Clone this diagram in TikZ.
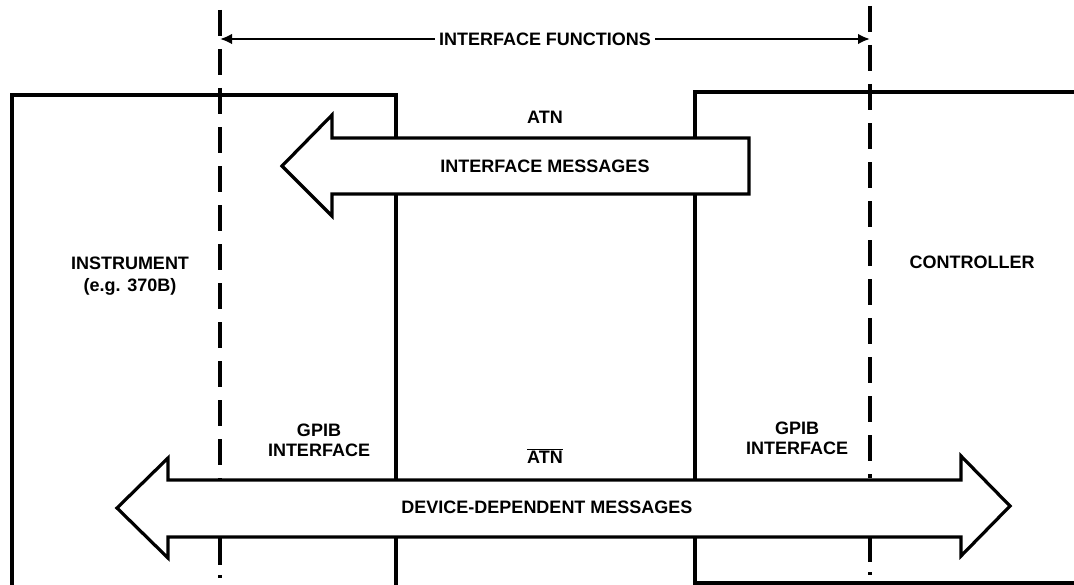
\documentclass[tikz,border=0pt]{standalone}
\usepackage{fontspec}
\setmainfont{Liberation Sans}
\usetikzlibrary{arrows.meta}
\begin{document}
\begin{tikzpicture}[x=0.75pt,y=-0.75pt,
  lbl/.style={font=\fontsize{13.5}{16.5}\selectfont\bfseries, inner sep=0pt, align=center},
  boxline/.style={line width=2.3pt, line join=miter},
  dashline/.style={line width=2.5pt, dash pattern=on 19.5pt off 9.75pt},
  bigarrow/.style={draw, fill=white, line width=2.4pt, line join=miter},
  dimline/.style={line width=2pt, {Latex[length=9pt,width=8pt]}-{Latex[length=9pt,width=8pt]}}]
\useasboundingbox (0,0) rectangle (1074,585);

% instrument and controller boxes
\draw[boxline] (12,585) -- (12,95) -- (396,95) -- (396,585);
\draw[boxline] (1074,92) -- (695,92) -- (695,583) -- (1074,583);

% interface-function boundaries (dashed)
\draw[dashline] (220,10) -- (220,481);
\draw[line width=2.5pt] (220,538) -- (220,565);
\draw[line width=2.5pt] (220,575) -- (220,578);
\draw[dashline] (870,6) -- (870,478);
\draw[line width=2.5pt] (870,536) -- (870,562);
\draw[line width=2.5pt] (870,572) -- (870,575);

% interface functions span
\coordinate (fL) at (220,39);
\coordinate (fR) at (870,39);
\draw[dimline] (fL) -- (fR);
\node[lbl, fill=white, inner xsep=3pt, inner ysep=2pt] (ifn) at (545,39) {INTERFACE FUNCTIONS};

% interface messages arrow (to the left)
\draw[bigarrow] (749,138) -- (332,138) -- (332,115) -- (282,166) -- (332,216) -- (332,194) -- (749,194) -- cycle;

% device-dependent messages arrow (both ways)
\draw[bigarrow] (117,508) -- (168,458) -- (168,480) -- (961,480) -- (961,456) -- (1010,506) -- (961,556) -- (961,537) -- (168,537) -- (168,558) -- cycle;

% labels
\node[lbl] (atn) at (545,117) {ATN};
\node[lbl] (ifm) at (545,166) {INTERFACE MESSAGES};
\node[lbl] (natn) at (545,456) {$\overline{\mbox{ATN}}$};
\node[lbl] (ddm) at (547,507) {DEVICE-DEPENDENT MESSAGES};
\node[lbl] (instr) at (130,276) {INSTRUMENT\\(e.g. 370B)};
\node[lbl] (ctrl) at (972,262) {CONTROLLER};
\node[lbl, font=\fontsize{13.5}{15}\selectfont\bfseries] (gpibL) at (319,440) {GPIB\\INTERFACE};
\node[lbl, font=\fontsize{13.5}{15}\selectfont\bfseries] (gpibR) at (797,438) {GPIB\\INTERFACE};
\end{tikzpicture}
\end{document}
